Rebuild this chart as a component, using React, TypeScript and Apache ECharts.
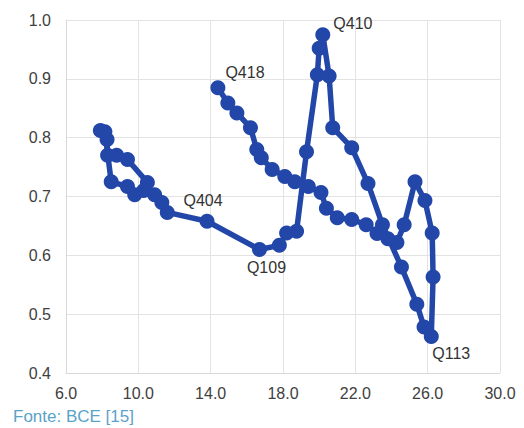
import React, { useEffect, useRef } from "react";
import * as echarts from "echarts";

const xValues = [
  10.5, 9.4, 8.8, 8.3, 8.27, 7.9, 8.15, 8.5, 9.4, 9.8, 10.3, 10.9, 11.3, 11.6,
  13.8, 16.7, 17.8, 18.2, 18.75, 19.3, 19.9, 20.0, 20.2, 20.55, 20.75, 21.8,
  22.7, 23.5, 24.55, 25.4, 25.8, 26.2, 26.3, 26.25, 25.85, 25.3, 24.7, 24.3,
  23.8, 23.2, 22.6, 21.8, 21.0, 20.4, 20.1, 19.4, 18.65, 18.1, 17.4, 16.8,
  16.55, 16.2, 15.45, 14.95, 14.4,
];
const yValues = [
  0.724, 0.763, 0.77, 0.77, 0.797, 0.812, 0.81, 0.725, 0.717, 0.703, 0.71,
  0.703, 0.69, 0.673, 0.658, 0.61, 0.617, 0.638, 0.641, 0.776, 0.907, 0.952,
  0.975, 0.905, 0.817, 0.783, 0.722, 0.652, 0.58, 0.517, 0.478, 0.462, 0.563,
  0.638, 0.693, 0.725, 0.652, 0.622, 0.628, 0.637, 0.652, 0.661, 0.664, 0.68,
  0.707, 0.717, 0.725, 0.734, 0.746, 0.766, 0.78, 0.817, 0.842, 0.859, 0.885,
];
const pointLabels = ["Q404", "Q109", "Q410", "Q113", "Q418"];
const labelIndices = [14, 15, 22, 31, 54];
const xTicks = [6, 10, 14, 18, 22, 26, 30];
const yTicks = [0.4, 0.5, 0.6, 0.7, 0.8, 0.9, 1.0];
const sourceNote = "Fonte: BCE [15]";

const labelPlacement: Record<string, any> = {
  Q404: { position: "top", offset: [-4, 0] },
  Q109: { position: "bottom", offset: [7, -2] },
  Q410: { position: "right", offset: [-2, -11] },
  Q113: { position: "bottom", offset: [20, -4] },
  Q418: { position: "right", offset: [-5, -15] },
};

export default function App() {
  const ref = useRef<HTMLDivElement>(null);
  useEffect(() => {
    document.body.style.margin = "0";
    if (!ref.current) return;
    const chart = echarts.init(ref.current, undefined, { renderer: "svg" });
    const data = xValues.map((x, i) => {
      const li = labelIndices.indexOf(i);
      const item: any = { value: [x, yValues[i]] };
      if (li >= 0) {
        const name = pointLabels[li];
        item.label = {
          show: true,
          formatter: name,
          ...labelPlacement[name],
          fontSize: 16,
          color: "#333333",
          fontFamily: "Liberation Sans, Arial, sans-serif",
        };
      }
      return item;
    });
    const axisLabelStyle = {
      fontSize: 16,
      color: "#404040",
      fontFamily: "Liberation Sans, Arial, sans-serif",
    };
    chart.setOption({
      animation: false,
      grid: { left: 66, right: 24, top: 20, bottom: 55 },
      xAxis: {
        type: "value",
        min: xTicks[0],
        max: xTicks[xTicks.length - 1],
        interval: 4,
        axisLine: { show: true, lineStyle: { color: "#d9d9d9" } },
        axisTick: { show: false },
        splitLine: { show: true, lineStyle: { color: "#e3e3e3" } },
        axisLabel: {
          ...axisLabelStyle,
          margin: 12,
          formatter: (v: number) => v.toFixed(1),
        },
      },
      yAxis: {
        type: "value",
        min: yTicks[0],
        max: yTicks[yTicks.length - 1],
        interval: 0.1,
        axisLine: { show: true, lineStyle: { color: "#d9d9d9" } },
        axisTick: { show: false },
        splitLine: { show: true, lineStyle: { color: "#e3e3e3" } },
        axisLabel: {
          ...axisLabelStyle,
          margin: 15,
          formatter: (v: number) => v.toFixed(1),
        },
      },
      series: [
        {
          type: "line",
          data,
          symbol: "circle",
          symbolSize: 15,
          lineStyle: { width: 5.5, color: "#2347a9" },
          itemStyle: { color: "#2347a9" },
          z: 3,
        },
      ],
      graphic: [
        {
          type: "text",
          left: 13,
          top: 408,
          style: {
            text: sourceNote,
            fontSize: 17,
            fill: "#5aa3c8",
            fontFamily: "Liberation Sans, Arial, sans-serif",
          },
        },
      ],
    });
    return () => chart.dispose();
  }, []);
  return <div ref={ref} style={{ width: 524, height: 428 }} />;
}
